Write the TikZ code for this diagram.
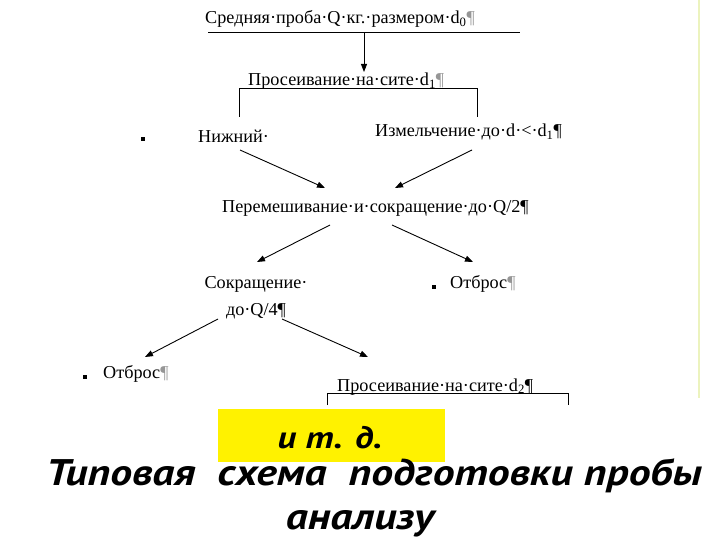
\documentclass[tikz,border=0pt]{standalone}
\usepackage{fontspec}
\setmainfont{Liberation Serif}
\newfontfamily\titlefont{PT Sans}[FakeStretch=1.18]
\usetikzlibrary{arrows.meta}
\definecolor{pilcrow}{RGB}{150,150,150}
\definecolor{edgeline}{RGB}{236,243,190}
\newcommand{\pil}{\textcolor{pilcrow}{¶}}
\tikzset{
  lbl/.style={anchor=base west, inner sep=0pt, font=\fontsize{18.2}{21}\selectfont},
  lblc/.style={align=center, inner sep=0pt, font=\fontsize{18.2}{27}\selectfont},
  arr/.style={line width=0.9pt, -{Triangle[length=8pt,width=6pt]}},
  brk/.style={line width=1pt},
  bul/.style={fill=black, inner sep=0pt, minimum size=3.5pt},
  yellowbox/.style={fill=yellow, inner sep=0pt, minimum width=227pt, minimum height=53pt},
  ttl/.style={inner sep=0pt, font=\titlefont\bfseries\itshape\fontsize{37}{46}\selectfont},
  etcs/.style={inner sep=0pt, font=\titlefont\bfseries\itshape\fontsize{31}{36}\selectfont}
}
\begin{document}
\begin{tikzpicture}[x=1pt,y=-1pt]
\useasboundingbox (0,0) rectangle (720,540);
\fill[white] (0,0) rectangle (720,540);
% right edge line
\draw[edgeline, line width=2.5pt] (699,0) -- (699,398);

% top
\node[lbl] (src) at (205,24) {Средняя·проба·Q·кг.·размером·d\textsubscript{0}\pil};
\coordinate (srcL) at (208,33);
\coordinate (srcR) at (520,33);
\draw[brk] (srcL) -- (srcR);
\coordinate (srcA) at (364,33);
\coordinate (sieve1A) at (364,72);
\draw[arr] (srcA) -- (sieve1A);

\node[lbl] (sieve1) at (248,86) {Просеивание·на·сите·d\textsubscript{1}\pil};
\coordinate (b1L) at (239,117);
\coordinate (b1TL) at (239,89);
\coordinate (b1TR) at (477,89);
\coordinate (b1R) at (477,117);
\draw[brk] (b1L) -- (b1TL) -- (b1TR) -- (b1R);

\node[bul] (bul1) at (143,139) {};
\node[lbl] (low) at (198,143) {Нижний·};
\node[lbl] (grind) at (375,137) {Измельчение·до·d·<·d\textsubscript{1}¶};

\coordinate (lowA) at (240,150);
\coordinate (grindA) at (472,150);
\coordinate (mixL) at (325,188);
\coordinate (mixR) at (395,188);
\draw[arr] (lowA) -- (mixL);
\draw[arr] (grindA) -- (mixR);

\node[lbl] (mix) at (222,213) {Перемешивание·и·сокращение·до·Q/2¶};
\coordinate (mixA) at (330,225);
\coordinate (mixB) at (392,225);
\coordinate (redT) at (257,262);
\coordinate (rej1T) at (473,262);
\draw[arr] (mixA) -- (redT);
\draw[arr] (mixB) -- (rej1T);

\node[lblc, anchor=base] (red) at (256,315) {Сокращение·\\до·Q/4¶};
\node[bul] (bul2) at (434,287) {};
\node[lbl] (rej1) at (450,288) {Отброс\pil};

\coordinate (redA) at (218,319);
\coordinate (redB) at (282,319);
\coordinate (rej2T) at (145,357);
\coordinate (sieve2T) at (368,357);
\draw[arr] (redA) -- (rej2T);
\draw[arr] (redB) -- (sieve2T);

\node[bul] (bul3) at (85,377) {};
\node[lbl] (rej2) at (103,378) {Отброс\pil};

\node[lbl] (sieve2) at (337,391) {Просеивание·на·сите·d\textsubscript{2}¶};
\coordinate (b2L) at (327,405);
\coordinate (b2TL) at (327,393);
\coordinate (b2TR) at (568,393);
\coordinate (b2R) at (568,405);
\draw[brk] (b2L) -- (b2TL) -- (b2TR) -- (b2R);

% yellow box
\node[yellowbox, anchor=north west] (etc) at (218,409) {};
\node[etcs, anchor=base] (etctext) at (330,448) {и т. д.};

% title
\node[ttl, anchor=base] (title1) at (374,485) {Типовая\ \ схема\ \ подготовки пробы};
\node[ttl, anchor=base] (title2) at (360,529) {анализу};
\end{tikzpicture}
\end{document}
